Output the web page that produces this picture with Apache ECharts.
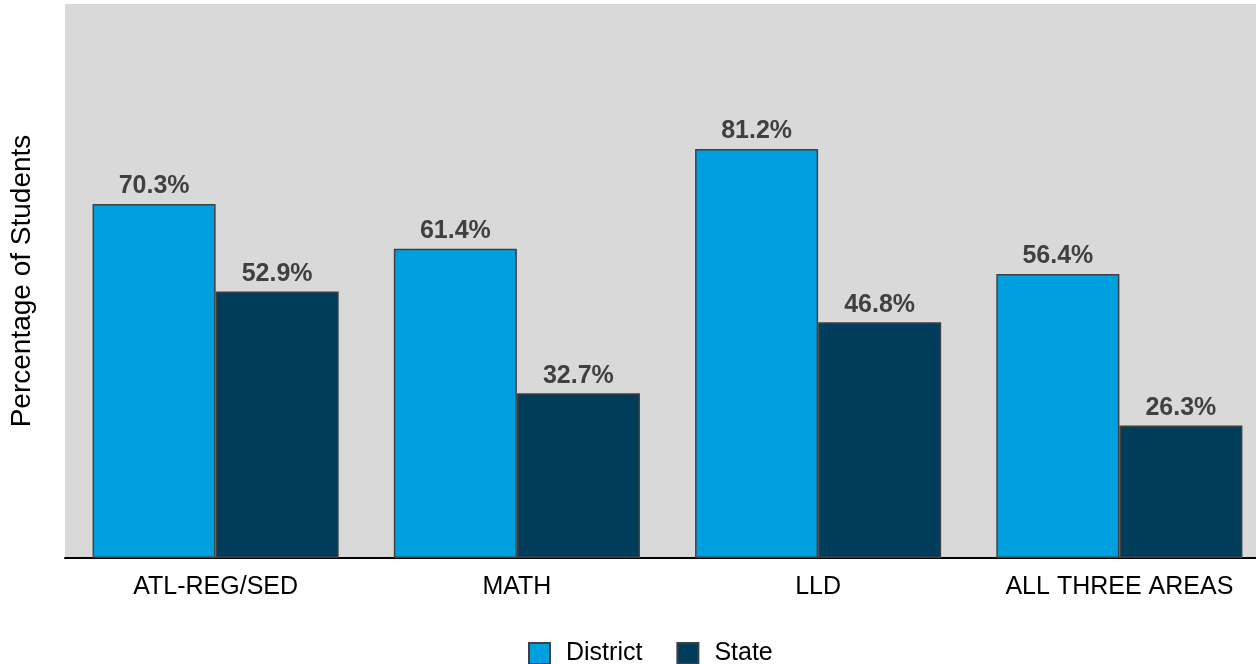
<!DOCTYPE html>
<html><head><meta charset="utf-8">
<script src="https://cdn.jsdelivr.net/npm/echarts@6/dist/echarts.min.js"></script>
<style>html,body{margin:0;padding:0;background:#fff;overflow:hidden}#c{width:1256px;height:664px}</style>
</head><body><div id="c"></div>
<script>
const categories = ['ATL-REG/SED', 'MATH', 'LLD', 'ALL THREE AREAS'];
const districtValues = [70.3, 61.4, 81.2, 56.4];
const stateValues = [52.9, 32.7, 46.8, 26.3];
const seriesNames = ['District', 'State'];

const FONT = 'Liberation Sans, Arial, sans-serif';
const chart = echarts.init(document.getElementById('c'));
const labelCfg = {
  show: true, position: 'top', distance: 5,
  formatter: p => p.value.toFixed(1) + '%',
  color: '#404040', fontWeight: 'bold', fontSize: 25, fontFamily: FONT
};
chart.setOption({
  animation: false,
  textStyle: { fontFamily: FONT },
  grid: { left: 65, right: -14, top: 4, bottom: 106, show: true, backgroundColor: '#d9d9d9', borderWidth: 0,
          outerBoundsMode: 'none', containLabel: false },
  legend: {
    data: seriesNames, bottom: -7, left: 523, itemWidth: 21, itemHeight: 21, itemGap: 34,
    icon: 'rect',
    itemStyle: { borderColor: '#404040', borderWidth: 2 },
    textStyle: { fontSize: 25, color: '#000', fontFamily: FONT, padding: [0, 0, 0, 11] }
  },
  xAxis: {
    type: 'category', data: categories,
    axisLine: { lineStyle: { color: '#000', width: 2 } },
    axisTick: { show: false },
    axisLabel: { fontSize: 25, color: '#000', margin: 17 }
  },
  yAxis: {
    type: 'value', min: 0, max: 110,
    name: 'Percentage of Students', nameLocation: 'middle', nameGap: 29, nameRotate: 90,
    nameTextStyle: { fontSize: 28, color: '#000' },
    axisLabel: { show: false }, axisLine: { show: false }, axisTick: { show: false },
    splitLine: { show: false }
  },
  series: [
    { name: seriesNames[0], type: 'bar', data: districtValues, barGap: '0%', barCategoryGap: '18.3%',
      itemStyle: { color: '#00a0e0', borderColor: '#404040', borderWidth: 1.5 }, label: labelCfg },
    { name: seriesNames[1], type: 'bar', data: stateValues,
      itemStyle: { color: '#003d5a', borderColor: '#404040', borderWidth: 1.5 }, label: labelCfg }
  ]
});
</script></body></html>
